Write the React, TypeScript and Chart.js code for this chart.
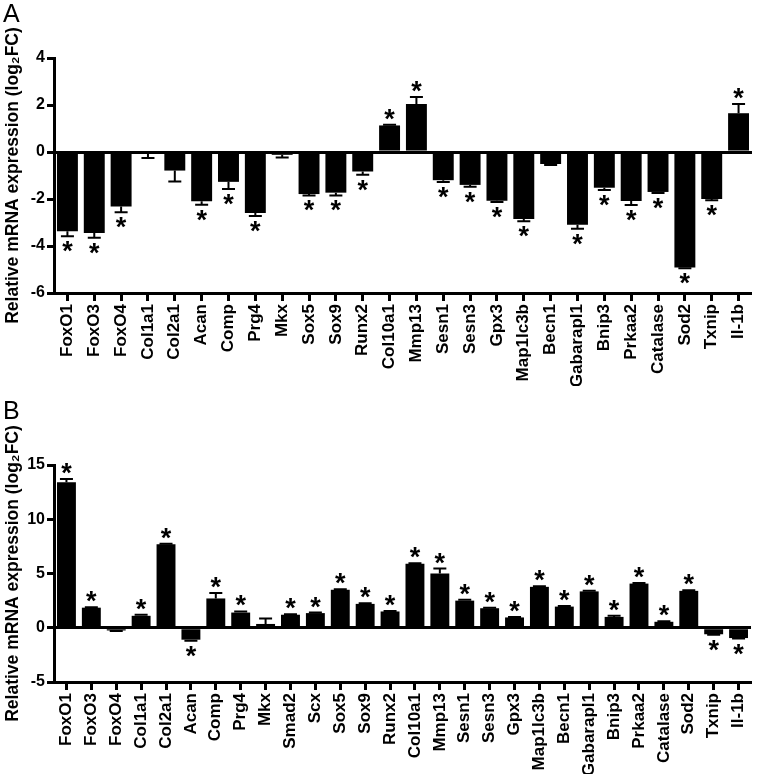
import React, { useEffect, useRef } from 'react';
import { Chart, registerables } from 'chart.js';

Chart.register(...registerables);

const FONT = "'Liberation Sans', Arial, Helvetica, sans-serif";
const Y_TITLE = 'Relative mRNA expression (log₂FC)';

// Panel A
const genesA = ['FoxO1', 'FoxO3', 'FoxO4', 'Col1a1', 'Col2a1', 'Acan', 'Comp', 'Prg4', 'Mkx', 'Sox5', 'Sox9', 'Runx2', 'Col10a1', 'Mmp13', 'Sesn1', 'Sesn3', 'Gpx3', 'Map1lc3b', 'Becn1', 'Gabarapl1', 'Bnip3', 'Prkaa2', 'Catalase', 'Sod2', 'Txnip', 'Il-1b'];
const valuesA = [-3.37, -3.45, -2.32, -0.08, -0.79, -2.1, -1.27, -2.6, -0.12, -1.79, -1.73, -0.83, 1.13, 2.04, -1.2, -1.4, -2.07, -2.85, -0.51, -3.1, -1.52, -2.08, -1.7, -4.92, -2.0, 1.65];
const errorsA = [0.22, 0.2, 0.24, 0.17, 0.47, 0.14, 0.3, 0.12, 0.11, 0.06, 0.12, 0.14, 0.03, 0.3, 0.08, 0.08, 0.06, 0.1, 0.04, 0.17, 0.1, 0.17, 0.04, 0.03, 0.05, 0.39];
const sigA = [true, true, true, false, false, true, true, true, false, true, true, true, true, true, true, true, true, true, false, true, true, true, true, true, true, true];
const yMinA = -6;
const yMaxA = 4;
const yStepA = 2;

// Panel B
const genesB = ['FoxO1', 'FoxO3', 'FoxO4', 'Col1a1', 'Col2a1', 'Acan', 'Comp', 'Prg4', 'Mkx', 'Smad2', 'Scx', 'Sox5', 'Sox9', 'Runx2', 'Col10a1', 'Mmp13', 'Sesn1', 'Sesn3', 'Gpx3', 'Map1lc3b', 'Becn1', 'Gabarapl1', 'Bnip3', 'Prkaa2', 'Catalase', 'Sod2', 'Txnip', 'Il-1b'];
const valuesB = [13.4, 1.85, -0.25, 1.1, 7.7, -1.1, 2.7, 1.4, 0.35, 1.2, 1.35, 3.5, 2.2, 1.5, 5.9, 5.0, 2.5, 1.8, 0.95, 3.77, 1.95, 3.35, 1.0, 4.07, 0.55, 3.4, -0.6, -0.95];
const errorsB = [0.3, 0.05, 0.05, 0.1, 0.05, 0.1, 0.5, 0.1, 0.5, 0.05, 0.05, 0.05, 0.05, 0.05, 0.05, 0.45, 0.07, 0.05, 0.05, 0.05, 0.05, 0.05, 0.1, 0.05, 0.05, 0.05, 0.05, 0.05];
const sigB = [true, true, false, true, true, true, true, true, false, true, true, true, true, true, true, true, true, true, true, true, true, true, true, true, true, true, true, true];
const yMinB = -5;
const yMaxB = 15;
const yStepB = 5;

const errStarPlugin = {
  id: 'errStar',
  afterDatasetsDraw(chart: any) {
    const ctx = chart.ctx;
    const ys = chart.scales.y;
    chart.data.datasets.forEach((ds: any, di: number) => {
      const meta = chart.getDatasetMeta(di);
      meta.data.forEach((el: any, i: number) => {
        const v = ds.data[i];
        const e = ds.errors[i];
        const s = v >= 0 ? 1 : -1;
        const yBar = ys.getPixelForValue(v);
        const yEnd = ys.getPixelForValue(v + s * e);
        ctx.save();
        ctx.strokeStyle = '#000';
        ctx.lineWidth = 2;
        ctx.beginPath();
        ctx.moveTo(el.x, yBar);
        ctx.lineTo(el.x, yEnd);
        ctx.moveTo(el.x - 6.5, yEnd);
        ctx.lineTo(el.x + 6.5, yEnd);
        ctx.stroke();
        if (ds.sig[i]) {
          ctx.fillStyle = '#000';
          ctx.font = `bold 27px ${FONT}`;
          ctx.textAlign = 'center';
          ctx.textBaseline = 'alphabetic';
          const m = ctx.measureText('*');
          const asc = m.actualBoundingBoxAscent;
          const desc = m.actualBoundingBoxDescent;
          const gap = 5;
          let base;
          if (s > 0) base = yEnd - gap - desc;
          else base = yEnd + gap + asc;
          ctx.fillText('*', el.x, base);
        }
        ctx.restore();
      });
    });
  },
};

function makeConfig(labels: string[], values: number[], errors: number[], sig: boolean[], yMin: number, yMax: number, step: number, padTop: number, xHeight: number, barPct: number) {
  return {
    type: 'bar' as const,
    data: {
      labels,
      datasets: [
        {
          data: values,
          errors,
          sig,
          backgroundColor: '#000',
          borderWidth: 0,
          barPercentage: barPct,
          categoryPercentage: 1,
        } as any,
      ],
    },
    options: {
      responsive: false,
      animation: false as const,
      layout: { padding: { top: padTop, right: 2, left: 0, bottom: 0 } },
      plugins: { legend: { display: false }, tooltip: { enabled: false } },
      scales: {
        x: {
          offset: true,
          grid: { display: true, drawOnChartArea: false, drawTicks: true, offset: false, tickLength: 8, tickWidth: 3, tickColor: '#000' },
          border: { display: true, width: 3, color: '#000' },
          ticks: { color: '#000', font: { family: FONT, size: 17, weight: 'bold' }, minRotation: 90, maxRotation: 90, autoSkip: false, padding: 3 },
          afterFit(scale: any) { scale.height = xHeight; },
        },
        y: {
          min: yMin,
          max: yMax,
          ticks: { stepSize: step, color: '#000', font: { family: FONT, size: 16, weight: 'bold' }, padding: 2 },
          grid: {
            display: true,
            drawOnChartArea: true,
            drawTicks: true,
            tickLength: 7,
            tickWidth: 3,
            tickColor: '#000',
            lineWidth: 3,
            color: (c: any) => (c.tick && c.tick.value === 0 ? '#000' : 'rgba(0,0,0,0)'),
          },
          border: { display: true, width: 3, color: '#000' },
          title: { display: true, text: Y_TITLE, color: '#000', font: { family: FONT, size: 17.5, weight: 'bold' }, padding: { top: 3, bottom: 0 } },
          afterFit(scale: any) { scale.width = 54; },
        },
      },
    },
    plugins: [errStarPlugin],
  };
}

function Panel(props: { letter: string; letterTop: number; height: number; overlap: number; cfg: any }) {
  const ref = useRef<HTMLCanvasElement | null>(null);
  useEffect(() => {
    if (!ref.current) return;
    const ch = new Chart(ref.current, props.cfg);
    return () => ch.destroy();
  }, []);
  return (
    <div style={{ position: 'relative', width: 762, height: props.height, marginBottom: -props.overlap }}>
      <canvas ref={ref} width={762} height={props.height} style={{ display: 'block', width: 762, height: props.height }} />
      <div style={{ position: 'absolute', left: 3, top: props.letterTop, fontFamily: FONT, fontSize: 25, lineHeight: 1, color: '#000' }}>{props.letter}</div>
    </div>
  );
}

export default function App() {
  useEffect(() => {
    document.body.style.margin = '0';
    document.body.style.background = '#fff';
  }, []);
  const cfgA = makeConfig(genesA, valuesA, errorsA, sigA, yMinA, yMaxA, yStepA, 58, 93, 0.78);
  const cfgB = makeConfig(genesB, valuesB, errorsB, sigB, yMinB, yMaxB, yStepB, 85, 92, 0.76);
  return (
    <div style={{ width: 762, height: 774, background: '#fff', overflow: 'hidden' }}>
      <Panel letter="A" letterTop={1} height={386} overlap={6} cfg={cfgA} />
      <Panel letter="B" letterTop={18} height={394} overlap={0} cfg={cfgB} />
    </div>
  );
}
